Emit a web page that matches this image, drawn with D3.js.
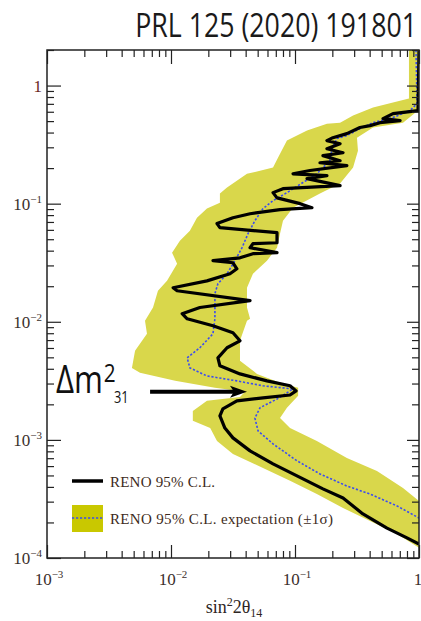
<!DOCTYPE html>
<html>
<head>
<meta charset="utf-8">
<script src="https://cdn.jsdelivr.net/npm/d3@7"></script>
<style>
  body { margin: 0; background: #fff; }
  svg { display: block; }
  .serif { font-family: "Liberation Serif", "Times New Roman", serif; }
  .sans { font-family: "Open Sans", "Noto Sans", sans-serif; }
</style>
</head>
<body>
<div id="chart"></div>
<script>
// points are [sin^2 2theta14, dm^2_41 (eV^2)]

// RENO 95% C.L. (observed)
let observed = [
  [1, 2], [0.982, 0.614], [0.617, 0.579], [0.513, 0.525], [0.704, 0.505],
  [0.484, 0.485], [0.403, 0.458], [0.334, 0.441], [0.262, 0.392], [0.202, 0.362],
  [0.181, 0.342], [0.231, 0.322], [0.181, 0.292], [0.244, 0.270], [0.168, 0.255],
  [0.231, 0.231], [0.159, 0.222], [0.262, 0.210], [0.132, 0.191], [0.0964, 0.179],
  [0.181, 0.173], [0.125, 0.163], [0.231, 0.142], [0.0800, 0.134], [0.0665, 0.124],
  [0.0716, 0.112], [0.110, 0.100], [0.137, 0.0925], [0.0757, 0.0890], [0.0434, 0.0822],
  [0.0316, 0.0760], [0.0235, 0.0678], [0.0248, 0.0627], [0.0716, 0.0568], [0.0716, 0.0467],
  [0.0458, 0.0458], [0.0434, 0.0424], [0.0716, 0.0385], [0.0458, 0.0377], [0.0360, 0.0348],
  [0.0218, 0.0329], [0.0316, 0.0316], [0.0340, 0.0281], [0.0299, 0.0255], [0.0195, 0.0222],
  [0.0104, 0.0194], [0.0112, 0.0183], [0.0434, 0.0151], [0.0171, 0.0132], [0.0123, 0.0117],
  [0.0135, 0.0106], [0.0218, 0.00925], [0.0316, 0.00807], [0.0360, 0.00690], [0.0283, 0.00603],
  [0.0239, 0.00495], [0.0248, 0.00424], [0.0360, 0.00362], [0.0594, 0.00316], [0.0912, 0.00287],
  [0.102, 0.00260], [0.0912, 0.00240], [0.0552, 0.00227], [0.0340, 0.00214], [0.0262, 0.00183],
  [0.0248, 0.00160], [0.0272, 0.00126], [0.0316, 0.00104], [0.0434, 0.000807], [0.0665, 0.000627],
  [0.116, 0.000467], [0.168, 0.000385], [0.244, 0.000322], [0.353, 0.000236], [0.552, 0.000179],
  [0.800, 0.000148], [1, 0.000131]
];

// expected sensitivity (median)
let expected = [
  [0.946, 2], [0.964, 0.704], [0.845, 0.614], [0.617, 0.536], [0.426, 0.485],
  [0.334, 0.432], [0.262, 0.377], [0.218, 0.356], [0.199, 0.292], [0.191, 0.231],
  [0.150, 0.179], [0.116, 0.151], [0.0861, 0.124], [0.0665, 0.106], [0.0552, 0.0908],
  [0.0475, 0.0718], [0.0418, 0.0557], [0.0374, 0.0424], [0.0328, 0.0329], [0.0283, 0.0255],
  [0.0239, 0.0210], [0.0226, 0.0173], [0.0226, 0.0106], [0.0218, 0.00791], [0.0171, 0.00603],
  [0.0135, 0.00495], [0.0142, 0.00407], [0.0195, 0.00348], [0.0340, 0.00316], [0.0552, 0.00287],
  [0.0964, 0.00270], [0.0716, 0.00222], [0.0522, 0.00187], [0.0475, 0.00153], [0.0504, 0.00119],
  [0.0665, 0.000925], [0.104, 0.000664], [0.159, 0.000515], [0.262, 0.000407], [0.403, 0.000348],
  [0.665, 0.000276], [1, 0.000218]
];

// +-1 sigma band, left edge top to bottom
let bandLeft = [
  [0.830, 2], [0.830, 0.776], [0.617, 0.718], [0.426, 0.651], [0.294, 0.557],
  [0.231, 0.485], [0.181, 0.476], [0.125, 0.416], [0.0861, 0.342], [0.0729, 0.245],
  [0.0665, 0.202], [0.0410, 0.179], [0.0283, 0.137], [0.0248, 0.122], [0.0248, 0.102],
  [0.0195, 0.0908], [0.0162, 0.0760], [0.0142, 0.0590], [0.0118, 0.0485], [0.0102, 0.0385],
  [0.0112, 0.0310], [0.00929, 0.0222], [0.00785, 0.0183], [0.00716, 0.0132], [0.00617, 0.0102],
  [0.00640, 0.00791], [0.00513, 0.00568], [0.00484, 0.00407], [0.00562, 0.00370], [0.0108, 0.00316],
  [0.0226, 0.00276], [0.0395, 0.00255], [0.0360, 0.00231], [0.0195, 0.00214], [0.0150, 0.00176],
  [0.0150, 0.00145], [0.0207, 0.00126], [0.0235, 0.00098], [0.0316, 0.000760], [0.0552, 0.000579],
  [0.0912, 0.000450], [0.150, 0.000348], [0.244, 0.000265], [0.403, 0.000206], [0.665, 0.000160],
  [1, 0.000122]
];

// +-1 sigma band, right edge top to bottom
let bandRight = [
  [1, 2], [1, 0.776], [0.982, 0.614], [0.743, 0.485], [0.426, 0.441],
  [0.316, 0.362], [0.322, 0.281], [0.294, 0.202], [0.231, 0.148], [0.159, 0.122],
  [0.0964, 0.0925], [0.0800, 0.0718], [0.0757, 0.0557], [0.0716, 0.0424], [0.0594, 0.0329],
  [0.0458, 0.0255], [0.0410, 0.0194], [0.0410, 0.0132], [0.0434, 0.0106], [0.0410, 0.0102],
  [0.0360, 0.00690], [0.0360, 0.00467], [0.0494, 0.00362], [0.0757, 0.00304], [0.106, 0.00276],
  [0.106, 0.00236], [0.0861, 0.00187], [0.0757, 0.00153], [0.0912, 0.00126], [0.150, 0.00098],
  [0.262, 0.000703], [0.458, 0.000546], [0.743, 0.000392], [1, 0.000304]
];

let xTickLabels = [["10", "\u22123"], ["10", "\u22122"], ["10", "\u22121"], ["1", ""]];
let yTickLabels = [["10", "\u22124"], ["10", "\u22123"], ["10", "\u22122"], ["10", "\u22121"], ["1", ""]];
let xMajor = [1e-3, 1e-2, 1e-1, 1];
let yMajor = [1e-4, 1e-3, 1e-2, 1e-1, 1];
let legendLabels = ["RENO 95% C.L.", "RENO 95% C.L. expectation (\u00b11\u03c3)"];
let title = "PRL 125 (2020) 191801";

// arrow marking dm^2_31, tail and tip
let arrowPts = [[0.00678, 0.00255], [0.0410, 0.00255]];

let width = 421, height = 621;
let m = { left: 47, right: 419, top: 50, bottom: 558 };

let svg = d3.select("#chart").append("svg")
  .attr("width", width)
  .attr("height", height);

let x = d3.scaleLog().domain([1e-3, 1]).range([m.left, m.right]);
let y = d3.scaleLog().domain([1e-4, 2]).range([m.bottom, m.top]);

svg.append("defs").append("clipPath").attr("id", "plot")
  .append("rect")
  .attr("x", m.left).attr("y", m.top)
  .attr("width", m.right - m.left).attr("height", m.bottom - m.top);

let line = d3.line().x(d => x(d[0])).y(d => y(d[1]));

let plot = svg.append("g").attr("clip-path", "url(#plot)");

// yellow band: left edge down, right edge back up
plot.append("path")
  .attr("d", line(bandLeft.concat(bandRight.slice().reverse())) + "Z")
  .attr("fill", "#d9d74b");

plot.append("path")
  .attr("d", line(expected))
  .attr("fill", "none")
  .attr("stroke", "#3a4cf0")
  .attr("stroke-width", 1.6)
  .attr("stroke-dasharray", "2.2,1.8");

plot.append("path")
  .attr("d", line(observed))
  .attr("fill", "none")
  .attr("stroke", "#000")
  .attr("stroke-width", 3.2)
  .attr("stroke-linejoin", "round");

// frame + inward ticks on all four sides
let isMajor = v => Math.abs(Math.log10(v) - Math.round(Math.log10(v))) < 1e-6;
let xMinor = x.ticks().filter(v => !isMajor(v));
let yMinor = y.ticks().filter(v => !isMajor(v));

function drawAxis(axis, tx, ty, values, size) {
  let g = svg.append("g")
    .attr("transform", "translate(" + tx + "," + ty + ")")
    .call(axis.tickValues(values).tickSize(size).tickFormat(""));
  g.select(".domain").remove();
  g.selectAll("line").attr("stroke", "#222").attr("stroke-width", 1.2);
}

drawAxis(d3.axisRight(y), m.left, 0, yMajor, 14);
drawAxis(d3.axisRight(y), m.left, 0, yMinor, 7);
drawAxis(d3.axisLeft(y), m.right, 0, yMajor, 12);
drawAxis(d3.axisLeft(y), m.right, 0, yMinor, 7);
drawAxis(d3.axisBottom(x), 0, m.top, xMajor, 14);
drawAxis(d3.axisBottom(x), 0, m.top, xMinor, 7);
drawAxis(d3.axisTop(x), 0, m.bottom, xMajor, 13);
drawAxis(d3.axisTop(x), 0, m.bottom, xMinor, 7);

svg.append("rect")
  .attr("x", m.left).attr("y", m.top)
  .attr("width", m.right - m.left).attr("height", m.bottom - m.top)
  .attr("fill", "none")
  .attr("stroke", "#222")
  .attr("stroke-width", 1.5);

// tick labels
let yLab = svg.selectAll(".ylab")
  .data(yMajor)
  .enter().append("text")
  .attr("class", "ylab serif")
  .attr("x", 42)
  .attr("y", d => y(d) + 6)
  .attr("text-anchor", "end")
  .attr("fill", (d, i) => i == yMajor.length - 1 ? "#6a2a1e" : "#3b2f2c")
  .style("font-size", "17px");
yLab.append("tspan").text((d, i) => yTickLabels[i][0]);
yLab.append("tspan")
  .attr("dy", -7)
  .style("font-size", "11px")
  .text((d, i) => yTickLabels[i][1]);

let xLab = svg.selectAll(".xlab")
  .data(xMajor)
  .enter().append("text")
  .attr("class", "xlab serif")
  .attr("x", (d, i) => i == xMajor.length - 1 ? x(d) - 1 : x(d) + 2)
  .attr("y", 585)
  .attr("text-anchor", "middle")
  .attr("fill", "#3b2f2c")
  .style("font-size", "17px");
xLab.append("tspan").text((d, i) => xTickLabels[i][0]);
xLab.append("tspan")
  .attr("dy", -7)
  .style("font-size", "11px")
  .text((d, i) => xTickLabels[i][1]);

// x title: sin^2 2theta_14
let xt = svg.append("text")
  .attr("class", "serif")
  .attr("x", 234)
  .attr("y", 613)
  .attr("text-anchor", "middle")
  .attr("fill", "#2e2624")
  .style("font-size", "18px");
xt.append("tspan").text("sin");
xt.append("tspan").attr("dy", -7).style("font-size", "12px").text("2");
xt.append("tspan").attr("dy", 7).text("2\u03b8");
xt.append("tspan").attr("dy", 4).style("font-size", "12px").text("14");

// title, condensed by a horizontal scale so it spans ~282px
let titleG = svg.append("g");
let titleT = titleG.append("text")
  .attr("class", "sans")
  .attr("text-anchor", "end")
  .attr("fill", "#1a1a1a")
  .style("font-size", "33px")
  .text(title);
let tw = titleT.node().getComputedTextLength();
titleG.attr("transform", "translate(417,37) scale(" + (282 / tw) + ",1)");

// legend
svg.append("line")
  .attr("x1", 72).attr("x2", 103)
  .attr("y1", 481).attr("y2", 481)
  .attr("stroke", "#000").attr("stroke-width", 3.5);
svg.append("rect")
  .attr("x", 72).attr("y", 505)
  .attr("width", 31).attr("height", 27)
  .attr("fill", "#c9c800");
svg.append("line")
  .attr("x1", 72).attr("x2", 103)
  .attr("y1", 518).attr("y2", 518)
  .attr("stroke", "#3a4cf0").attr("stroke-width", 1.6)
  .attr("stroke-dasharray", "2.2,1.8");
let legWidths = [105, 223];
svg.selectAll(".leg")
  .data(legendLabels)
  .enter().append("text")
  .attr("class", "leg serif")
  .attr("x", 110)
  .attr("y", (d, i) => 487 + i * 37)
  .attr("fill", "#3d2a20")
  .attr("textLength", (d, i) => legWidths[i])
  .attr("lengthAdjust", "spacing")
  .style("font-size", "15px")
  .text(d => d);

// dm^2_31 arrow
svg.append("line")
  .attr("x1", x(arrowPts[0][0])).attr("y1", y(arrowPts[0][1]))
  .attr("x2", x(arrowPts[1][0]) - 12).attr("y2", y(arrowPts[1][1]))
  .attr("stroke", "#000").attr("stroke-width", 4);
let tipX = x(arrowPts[1][0]), tipY = y(arrowPts[1][1]);
svg.append("path")
  .attr("d", "M" + tipX + "," + tipY +
    "L" + (tipX - 17) + "," + (tipY - 6) +
    "L" + (tipX - 13) + "," + tipY +
    "L" + (tipX - 17) + "," + (tipY + 6) + "Z")
  .attr("fill", "#000");

// one text element for the label, squeezed like the original condensed face
let dmG = svg.append("g").attr("transform", "translate(56,393) scale(0.8,1)");
let dmT = dmG.append("text")
  .attr("class", "sans")
  .attr("fill", "#111")
  .style("font-size", "39px");
dmT.append("tspan").text("\u0394m");
dmT.append("tspan").attr("dx", 1).attr("dy", -11).style("font-size", "26px").text("2");
dmT.append("tspan").attr("dx", -2).attr("dy", 21).style("font-size", "16px").text("31");
</script>
</body>
</html>
